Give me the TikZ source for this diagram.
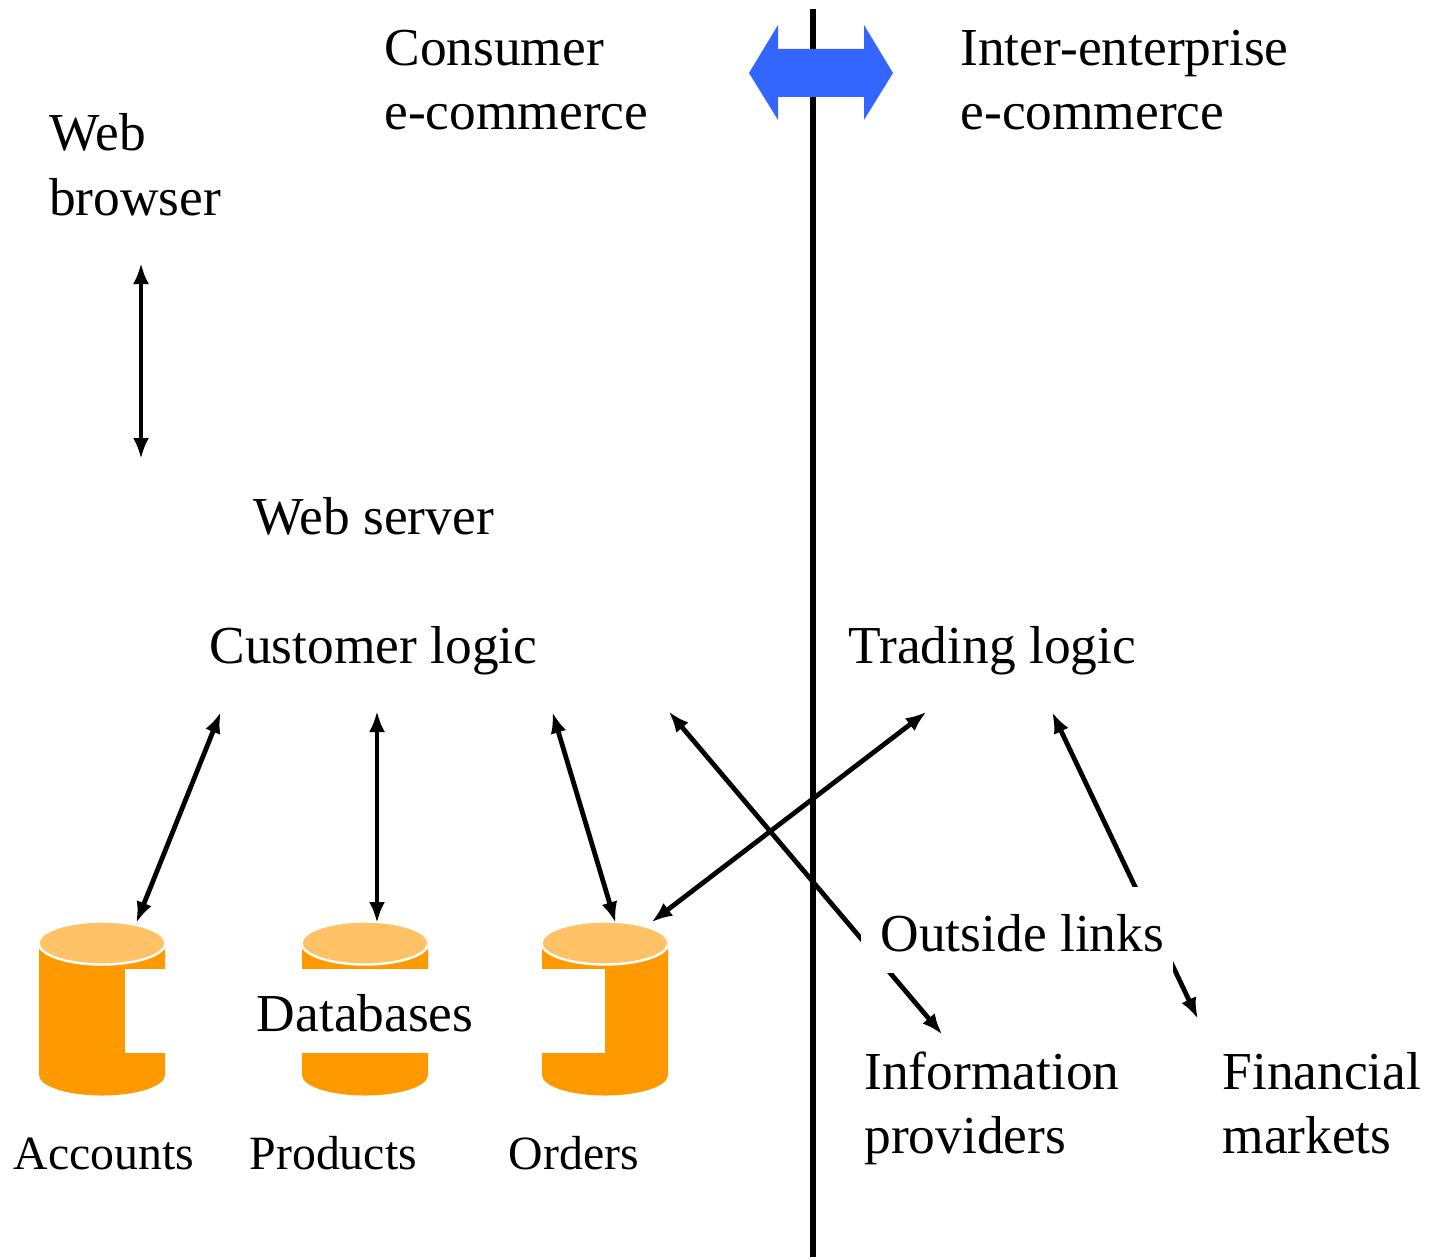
\documentclass[tikz,border=0pt]{standalone}
\usepackage{fontspec}
\setmainfont{Liberation Serif}
\usetikzlibrary{arrows.meta}
\definecolor{dbbody}{HTML}{FF9900}
\definecolor{dbtop}{HTML}{FFC266}
\definecolor{bluearrow}{HTML}{3366FF}
\tikzset{
  bigtext/.style={anchor=base west,inner sep=0pt,align=left,font=\fontsize{53.4}{64.5}\selectfont},
  smalltext/.style={anchor=base west,inner sep=0pt,font=\fontsize{47.8}{57}\selectfont},
  link/.style={line width=4.8pt,shorten <=-2pt,shorten >=-2pt,{Latex[length=21pt,width=16pt]}-{Latex[length=21pt,width=16pt]}},
  divider/.style={line width=6pt,black},
  mask/.style={fill=white,inner sep=0pt,anchor=base west,font=\fontsize{53.4}{64.5}\selectfont}
}
\newcommand{\dbcyl}[1]{%
  \fill[dbbody] (#1-63,943) -- (#1-63,1075) arc[start angle=180,end angle=0,x radius=63,y radius=20.5] -- (#1+63,943) -- cycle;
  \filldraw[fill=dbtop,draw=white,line width=2.4pt] (#1,943) ellipse[x radius=63.5,y radius=21.5];
}
\begin{document}
\begin{tikzpicture}[x=1pt,y=-1pt]
\useasboundingbox (0,0) rectangle (1443,1260);
\dbcyl{102}
\dbcyl{365}
\dbcyl{605}
% coordinates
\coordinate (divtop) at (813,9);
\coordinate (divbot) at (813,1257);
\coordinate (browserend) at (141,265);
\coordinate (serverend) at (141,457);
\coordinate (custA) at (220,714);
\coordinate (custP) at (377,713);
\coordinate (custO) at (553,714);
\coordinate (custI) at (670,713);
\coordinate (tradO) at (925,713);
\coordinate (tradF) at (1053,714);
\coordinate (dbA) at (137,921);
\coordinate (dbP) at (377,921);
\coordinate (dbO) at (615,921);
\coordinate (dbT) at (653,921);
\coordinate (infoend) at (941,1033);
\coordinate (finend) at (1197,1017);
\draw[divider] (divtop) -- (divbot);
\fill[bluearrow] (749,73) -- (778,25) -- (778,49) -- (864,49) -- (864,25) -- (893,73) -- (864,120) -- (864,97) -- (778,97) -- (778,120) -- cycle;
\draw[link] (browserend) -- (serverend);
\draw[link] (custA) -- (dbA);
\draw[link] (custP) -- (dbP);
\draw[link] (custO) -- (dbO);
\draw[link] (custI) -- (infoend);
\draw[link] (tradO) -- (dbT);
\draw[link] (tradF) -- (finend);
\node[mask,text height=63pt,text depth=21pt] (databases) at (125,1031.5) {\makebox[480pt][c]{Databases}};
\node[mask,text height=64pt,text depth=21.5pt] (outside) at (861,951.2) {\makebox[312pt][l]{\hspace*{19.5pt}Outside links}};
\node[bigtext] (consumer) at (384.3,129.8) {Consumer\\e-commerce};
\node[bigtext] (inter) at (960.3,129.8) {Inter-enterprise\\e-commerce};
\node[bigtext] (browser) at (49,215) {Web\\browser};
\node[bigtext] (webserver) at (253.3,534.2) {Web server};
\node[bigtext] (customer) at (209.3,663) {Customer logic};
\node[bigtext] (trading) at (848.5,663) {Trading logic};
\node[bigtext] (info) at (864.3,1153.5) {Information\\providers};
\node[bigtext] (fin) at (1222.3,1153.5) {Financial\\markets};
\node[smalltext] (accounts) at (13.5,1169) {Accounts};
\node[smalltext] (products) at (249.5,1169) {Products};
\node[smalltext] (orders) at (508.5,1169) {Orders};
\end{tikzpicture}
\end{document}
